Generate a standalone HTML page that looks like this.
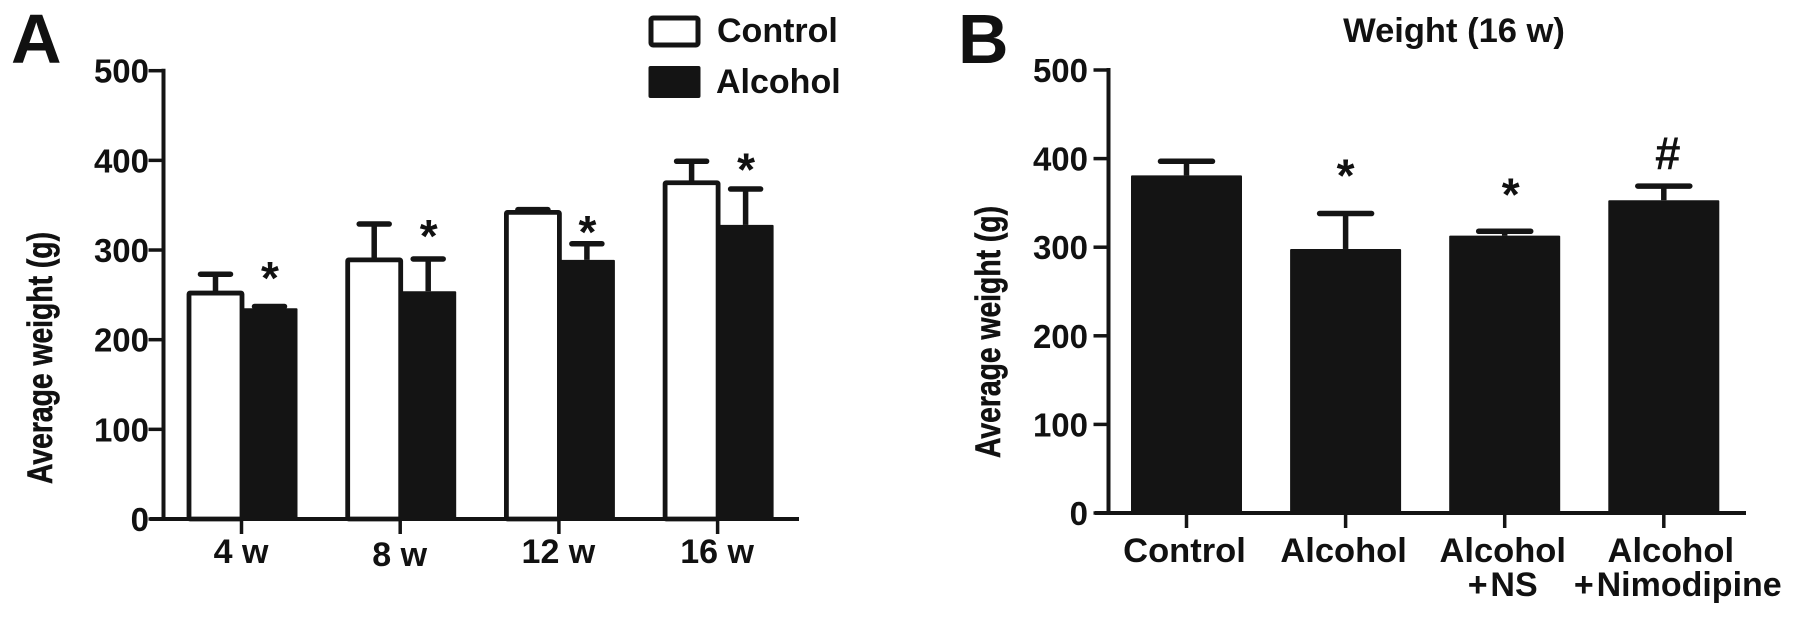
<!DOCTYPE html>
<html lang="en">
<head>
<meta charset="utf-8">
<title>Average weight charts</title>
<style>
  html, body { margin: 0; padding: 0; background: #fff; }
  body { width: 1795px; height: 617px; overflow: hidden; }
  svg { display: block; }
  text { font-family: "Liberation Sans", Arial, sans-serif; font-weight: bold; fill: #111; }
</style>
</head>
<body>
<svg id="figure" xmlns="http://www.w3.org/2000/svg" width="1795" height="617" viewBox="0 0 1795 617">
  <rect x="0" y="0" width="1795" height="617" fill="#fff"/>
  <text x="11" y="63" font-size="70">A</text>
  <text x="958" y="63" font-size="70">B</text>
  <text transform="translate(52,484) rotate(-90)" font-size="35" textLength="252" lengthAdjust="spacingAndGlyphs" stroke="#111" stroke-width="0.6">Average weight (g)</text>
  <text transform="translate(1000,458) rotate(-90)" font-size="35" textLength="252" lengthAdjust="spacingAndGlyphs" stroke="#111" stroke-width="0.6">Average weight (g)</text>
  <text x="1454" y="42" text-anchor="middle" font-size="34.500">Weight (16 w)</text>
  <g>
    <rect x="651" y="18" width="47" height="27" rx="2" fill="#fff" stroke="#141414" stroke-width="5"/>
    <text x="717" y="42" font-size="34">Control</text>
    <rect x="648.500" y="66" width="52" height="32" rx="2" fill="#141414"/>
    <text x="716" y="93" font-size="34">Alcohol</text>
  </g>
  <g id="panel-a"></g>
  <g id="panel-b"></g>
</svg>
<script>
// Shared y-axis ticks
const yTickValues = [0, 100, 200, 300, 400, 500];

// Panel A data
const weeksA = ["4 w", "8 w", "12 w", "16 w"];
const controlValues = [252, 289, 342, 375];
const controlErrors = [273, 329, 345, 399];
const alcoholValues = [235, 254, 289, 328];
const alcoholErrors = [237, 290, 307, 368];
const starLevelsA = [280, 327, 331, 401];

// Panel B data
const groupsB = [["Control"], ["Alcohol"], ["Alcohol", "+\u200ANS"], ["Alcohol", "+\u200ANimodipine"]];
const valuesB = [381, 298, 313, 353];
const errorsB = [397, 338, 318, 369];
const marksB = ["", "*", "*", "#"];
const markLevelsB = [0, 392, 371, 404];

const SVG_NS = "http://www.w3.org/2000/svg";
const INK = "#141414";

function yScaleA(v) { return 519 - v * (519 - 70.7) / 500; }
function xScaleA(i) { return 241.500 + i * 158.700; }
function yScaleB(v) { return 513 - v * (513 - 70) / 500; }
function xScaleB(i) { return 1186.500 + i * 159.100; }

function make(parent, tag, attrs, content) {
  const node = document.createElementNS(SVG_NS, tag);
  Object.keys(attrs).forEach(function (k) { node.setAttribute(k, attrs[k]); });
  if (content !== undefined) node.textContent = content;
  parent.appendChild(node);
  return node;
}

function drawLine(parent, x1, y1, x2, y2, w, cap) {
  return make(parent, "line", { x1: x1, y1: y1, x2: x2, y2: y2, stroke: INK, "stroke-width": w, "stroke-linecap": cap || "butt" });
}

function drawError(parent, cx, yTop, yBase, capHalf, name) {
  const stem = drawLine(parent, cx, yBase, cx, yTop, 5.5);
  
  
  const cap = drawLine(parent, cx - capHalf, yTop, cx + capHalf, yTop, 5.5, "round");
  
  
}

function drawAxes(parent, cfg) {
  const yAxis = drawLine(parent, cfg.axisX, cfg.yScale(500) - 2, cfg.axisX, cfg.yScale(0), 4);
  
  
  yTickValues.forEach(function (v) {
    const y = cfg.yScale(v);
    const tick = drawLine(parent, cfg.axisX - 15, y, cfg.axisX, y, 3.500);
    
    
    const label = make(parent, "text", { x: cfg.labelX, y: y + 12, "text-anchor": "end", "font-size": 33 }, String(v));
    
    
  });
}

// Panel A
const panelA = document.getElementById("panel-a");
drawAxes(panelA, { axisX: 163.500, labelX: 149, yScale: yScaleA, prefix: "panel-a" });
weeksA.forEach(function (week, i) {
  const x = xScaleA(i);
  const y0 = yScaleA(0);

  const tick = drawLine(panelA, x, y0, x, y0 + 15, 3.500);
  
  

  drawError(panelA, x - 26, yScaleA(controlErrors[i]), yScaleA(controlValues[i]), 15, 'control-error-' + i);
  drawError(panelA, x + 28, yScaleA(alcoholErrors[i]), yScaleA(alcoholValues[i]), 15, 'alcohol-error-' + i);

  const yc = yScaleA(controlValues[i]);
  const control = make(panelA, "rect", { x: x - 52.500, y: yc, width: 53, height: y0 - yc, fill: "#fff", stroke: INK, "stroke-width": 4.800, rx: 1 });
  
  

  const ya = yScaleA(alcoholValues[i]);
  const alcohol = make(panelA, "rect", { x: x + 0.500, y: ya, width: 55.500, height: y0 - ya, fill: INK, rx: 1 });
  
  

  const star = make(panelA, "text", { x: x + 28.500, y: yScaleA(starLevelsA[i]) + 26, "text-anchor": "middle", "font-size": 46 }, "*");
  
  

  const label = make(panelA, "text", { x: x - 0.500, y: i === 1 ? 566 : 563, "text-anchor": "middle", "font-size": 34 }, week);
  
  
});
const xAxisA = drawLine(panelA, 150, yScaleA(0), 799, yScaleA(0), 4);



// Panel B
const panelB = document.getElementById("panel-b");
drawAxes(panelB, { axisX: 1108.500, labelX: 1088, yScale: yScaleB, prefix: "panel-b" });
groupsB.forEach(function (lines, i) {
  const x = xScaleB(i);
  const y0 = yScaleB(0);

  const tick = drawLine(panelB, x, y0, x, y0 + 15, 3.500);
  
  

  drawError(panelB, x, yScaleB(errorsB[i]), yScaleB(valuesB[i]), 26, 'panel-b-error-' + i);

  const yb = yScaleB(valuesB[i]);
  const bar = make(panelB, "rect", { x: x - 55.500, y: yb, width: 111, height: y0 - yb, fill: INK, rx: 1 });
  
  

  if (marksB[i]) {
    const isHash = marksB[i] === "#";
    const markShift = isHash ? 4 : (i === 2 ? 6 : 0);
    const mark = make(panelB, "text", { x: x + markShift, y: yScaleB(markLevelsB[i]) + (isHash ? 14 : 26), "text-anchor": "middle", "font-size": 46, "font-weight": isHash ? "normal" : "bold" }, marksB[i]);
    
    
  }

  lines.forEach(function (line, j) {
    const offset = i === 3 ? (j === 0 ? 7 : 14) : -2;
    const label = make(panelB, "text", { x: x + offset, y: j === 0 ? 562 : 596, "text-anchor": "middle", "font-size": j === 1 ? 34 : 34.500 }, line);
    
    
  });
});
const xAxisB = drawLine(panelB, 1095, yScaleB(0), 1746, yScaleB(0), 4);


</script>
</body>
</html>
